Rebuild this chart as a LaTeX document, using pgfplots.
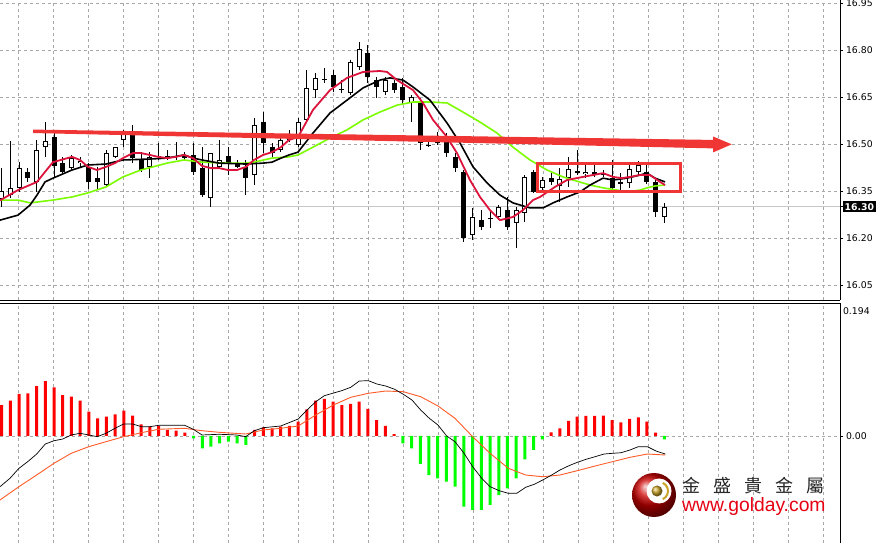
\documentclass[border=0pt]{standalone}
\usepackage{pgfplots}
\pgfplotsset{compat=1.18}
\usepackage{pgfplotstable}
\usepackage{fontspec}
\setmainfont{DejaVu Sans}
\newfontfamily\cjk{Noto Sans CJK TC}
\newfontfamily\lib{Liberation Sans}
\definecolor{mared}{HTML}{DC143C}
\definecolor{magreen}{HTML}{7CFC00}
\definecolor{histred}{HTML}{FF0000}
\definecolor{histgreen}{HTML}{00FF00}
\definecolor{sigorange}{HTML}{FF5A28}
\definecolor{gridgray}{HTML}{A8A8A8}
\definecolor{annot}{HTML}{F03535}
\definecolor{golred}{HTML}{E60012}
\definecolor{goldc}{HTML}{C9A227}

\pgfplotstableread{
i O H L C
0 16.324 16.423 16.299 16.350
1 16.337 16.510 16.328 16.360
2 16.360 16.442 16.347 16.423
3 16.411 16.423 16.379 16.391
4 16.379 16.513 16.347 16.481
5 16.490 16.570 16.459 16.510
6 16.522 16.535 16.395 16.430
7 16.439 16.459 16.404 16.411
8 16.423 16.465 16.417 16.455
9 16.439 16.459 16.427 16.446
10 16.427 16.439 16.356 16.379
11 16.391 16.427 16.353 16.379
12 16.369 16.481 16.366 16.471
13 16.459 16.490 16.455 16.490
14 16.513 16.545 16.490 16.535
15 16.538 16.561 16.439 16.455
16 16.449 16.474 16.411 16.417
17 16.427 16.474 16.391 16.459
18 16.459 16.503 16.449 16.462
19 16.459 16.481 16.449 16.462
20 16.459 16.506 16.449 16.462
21 16.465 16.474 16.449 16.455
22 16.465 16.503 16.401 16.411
23 16.423 16.490 16.331 16.337
24 16.328 16.471 16.299 16.471
25 16.427 16.513 16.423 16.449
26 16.462 16.490 16.401 16.439
27 16.439 16.449 16.423 16.427
28 16.427 16.449 16.337 16.391
29 16.401 16.583 16.369 16.561
30 16.570 16.602 16.471 16.503
31 16.490 16.503 16.459 16.471
32 16.481 16.526 16.474 16.513
33 16.513 16.545 16.506 16.526
34 16.497 16.583 16.490 16.570
35 16.577 16.736 16.567 16.679
36 16.672 16.727 16.647 16.711
37 16.704 16.743 16.695 16.707
38 16.720 16.736 16.666 16.682
39 16.672 16.704 16.663 16.676
40 16.663 16.768 16.656 16.762
41 16.746 16.826 16.736 16.803
42 16.790 16.816 16.695 16.714
43 16.704 16.714 16.647 16.682
44 16.666 16.714 16.656 16.704
45 16.695 16.704 16.663 16.672
46 16.682 16.711 16.624 16.640
47 16.631 16.656 16.570 16.650
48 16.631 16.647 16.481 16.503
49 16.494 16.510 16.490 16.497
50 16.503 16.538 16.497 16.513
51 16.513 16.535 16.459 16.471
52 16.459 16.471 16.411 16.423
53 16.411 16.417 16.187 16.200
54 16.210 16.296 16.194 16.267
55 16.257 16.289 16.226 16.235
56 16.261 16.289 16.232 16.264
57 16.267 16.305 16.257 16.299
58 16.289 16.331 16.226 16.235
59 16.248 16.299 16.168 16.289
60 16.280 16.401 16.251 16.395
61 16.411 16.417 16.344 16.347
62 16.360 16.395 16.353 16.385
63 16.391 16.407 16.369 16.379
64 16.366 16.423 16.315 16.388
65 16.391 16.459 16.363 16.420
66 16.407 16.481 16.401 16.414
67 16.404 16.433 16.391 16.411
68 16.411 16.433 16.395 16.401
69 16.401 16.417 16.395 16.407
70 16.391 16.449 16.353 16.360
71 16.372 16.407 16.353 16.379
72 16.376 16.442 16.360 16.420
73 16.411 16.446 16.401 16.433
74 16.411 16.433 16.372 16.379
75 16.379 16.385 16.267 16.283
76 16.267 16.312 16.248 16.300
}\candles

\pgfplotstableread{
x y
-0.19 16.320
1.87 16.353
4.05 16.379
4.97 16.411
5.88 16.442
8.06 16.459
8.98 16.449
9.90 16.427
10.93 16.417
11.96 16.427
12.99 16.439
13.91 16.455
15.06 16.471
15.97 16.471
17.01 16.465
17.92 16.459
18.96 16.455
19.99 16.459
20.91 16.465
21.94 16.455
22.97 16.430
24.00 16.423
24.92 16.423
25.95 16.417
26.98 16.417
28.02 16.427
28.93 16.449
29.97 16.465
31.00 16.474
32.03 16.490
32.95 16.513
33.98 16.522
35.70 16.609
37.65 16.672
39.60 16.711
41.44 16.730
43.38 16.733
44.19 16.730
45.33 16.704
47.17 16.672
48.31 16.631
49.46 16.577
51.07 16.522
52.21 16.471
53.70 16.385
54.85 16.331
55.99 16.289
57.14 16.257
58.63 16.267
59.78 16.289
60.93 16.321
61.73 16.331
63.45 16.363
64.83 16.385
66.66 16.395
68.96 16.407
70.10 16.395
71.14 16.391
72.05 16.395
73.20 16.401
74.34 16.401
75.49 16.379
76.07 16.369
}\mafast

\pgfplotstableread{
x y
-0.19 16.257
1.87 16.273
3.25 16.305
4.05 16.337
4.97 16.379
5.88 16.391
8.06 16.417
9.90 16.433
11.96 16.436
13.91 16.449
17.01 16.452
18.96 16.455
20.91 16.465
21.94 16.455
22.97 16.449
24.92 16.439
28.02 16.436
29.97 16.439
31.00 16.442
32.03 16.455
32.95 16.465
33.98 16.474
35.70 16.535
37.65 16.599
39.60 16.640
41.44 16.679
43.38 16.704
44.53 16.711
46.02 16.704
47.17 16.682
49.12 16.640
51.07 16.567
52.56 16.503
54.05 16.427
55.65 16.376
57.14 16.337
58.63 16.312
60.58 16.296
62.07 16.296
63.22 16.312
64.83 16.331
66.32 16.347
67.47 16.369
68.96 16.391
70.10 16.385
71.71 16.391
73.20 16.401
74.00 16.407
74.92 16.391
76.07 16.379
}\mamid

\pgfplotstableread{
x y
-0.19 16.321
1.87 16.321
3.25 16.312
5.88 16.321
8.06 16.331
9.90 16.344
11.96 16.363
13.91 16.395
15.97 16.417
18.96 16.439
20.91 16.449
22.97 16.442
25.95 16.439
28.02 16.439
28.93 16.442
31.00 16.455
32.95 16.459
33.98 16.465
35.70 16.490
37.65 16.519
39.60 16.545
41.44 16.577
43.38 16.602
45.33 16.624
47.17 16.634
49.12 16.634
51.07 16.631
52.90 16.602
54.85 16.570
56.80 16.535
58.63 16.490
60.58 16.449
62.53 16.417
64.37 16.395
65.52 16.385
67.47 16.369
68.96 16.360
70.56 16.353
71.71 16.347
73.20 16.353
74.00 16.360
74.92 16.366
76.07 16.369
}\maslow

\pgfplotstableread{
i h
0 0.0452
1 0.0515
2 0.0613
3 0.0623
4 0.0729
5 0.0802
6 0.0710
7 0.0598
8 0.0573
9 0.0515
10 0.0354
11 0.0258
12 0.0282
13 0.0317
14 0.0369
15 0.0296
16 0.0171
17 0.0136
18 0.0146
19 0.0088
20 0.0077
21 0.0048
22 -0.0034
23 -0.0179
24 -0.0156
25 -0.0106
26 -0.0083
27 -0.0106
28 -0.0131
29 0.0088
30 0.0127
31 0.0112
32 0.0136
33 0.0146
34 0.0209
35 0.0389
36 0.0515
37 0.0540
38 0.0500
39 0.0452
40 0.0467
41 0.0500
42 0.0394
43 0.0233
44 0.0146
45 0.0029
46 -0.0106
47 -0.0179
48 -0.0408
49 -0.0569
50 -0.0617
51 -0.0667
52 -0.0739
53 -0.1031
54 -0.1079
55 -0.1079
56 -0.1006
57 -0.0861
58 -0.0763
59 -0.0617
60 -0.0340
61 -0.0204
62 -0.0048
63 0.0054
64 0.0112
65 0.0219
66 0.0282
67 0.0292
68 0.0292
69 0.0296
70 0.0233
71 0.0200
72 0.0248
73 0.0273
74 0.0209
75 0.0048
76 -0.0048
}\hist

\pgfplotstableread{
x y
-0.19 -0.0739
0.95 -0.0617
1.98 -0.0471
2.98 -0.0375
4.01 -0.0263
5.00 -0.0117
6.00 -0.0069
7.00 -0.0044
7.98 0.0015
8.98 0.0039
9.98 0.0015
10.96 -0.0010
11.96 0.0039
12.99 0.0112
13.99 0.0175
15.02 0.0175
16.01 0.0136
17.01 0.0136
18.00 0.0156
19.99 0.0156
20.99 0.0156
21.97 0.0098
22.97 0.0015
24.95 0.0025
26.95 0.0015
27.98 -0.0010
28.97 0.0077
30.00 0.0121
32.00 0.0146
34.01 0.0248
35.01 0.0379
36.01 0.0500
37.00 0.0588
38.99 0.0661
40.02 0.0710
41.01 0.0802
42.04 0.0807
43.04 0.0758
44.04 0.0729
45.07 0.0681
46.06 0.0608
47.05 0.0525
48.05 0.0379
49.04 0.0258
50.03 0.0160
51.03 0.0000
51.98 -0.0083
53.02 -0.0252
54.01 -0.0448
55.05 -0.0617
56.00 -0.0739
57.06 -0.0798
58.10 -0.0836
59.06 -0.0836
60.09 -0.0748
61.08 -0.0704
62.04 -0.0642
63.07 -0.0569
64.02 -0.0496
65.05 -0.0433
66.01 -0.0384
67.01 -0.0340
68.04 -0.0302
69.07 -0.0263
70.02 -0.0253
71.02 -0.0244
72.05 -0.0204
73.00 -0.0156
74.04 -0.0156
75.04 -0.0219
76.10 -0.0263
}\macdline

\pgfplotstableread{
x y
-0.19 -0.0933
1.98 -0.0739
4.01 -0.0569
6.00 -0.0398
7.98 -0.0252
9.98 -0.0156
11.96 -0.0083
13.99 -0.0010
16.01 0.0048
18.00 0.0098
20.99 0.0112
22.97 0.0077
24.95 0.0054
27.98 0.0029
30.00 0.0088
32.00 0.0112
34.01 0.0146
36.01 0.0306
38.03 0.0452
40.02 0.0564
42.04 0.0623
44.04 0.0656
46.06 0.0646
48.05 0.0573
50.03 0.0438
51.98 0.0258
54.01 -0.0010
56.00 -0.0252
58.10 -0.0471
60.09 -0.0569
62.04 -0.0594
64.02 -0.0569
66.01 -0.0506
68.04 -0.0438
70.02 -0.0375
72.05 -0.0311
74.04 -0.0263
76.10 -0.0277
}\signal

\pgfplotsset{
  mtpanel/.style={
    scale only axis, width=840pt,
    xmin=-0.195, xmax=96.135,
    axis y line*=right,
    xtick={1.904,5.9178,...,95},
    xticklabels={}, xtick style={draw=none},
    grid=major,
    major grid style={gridgray, dash pattern=on 3pt off 3pt, line width=0.6pt},
    tick align=outside, major tick length=3pt,
    ytick style={black, line width=0.6pt},
    axis line style={black, line width=0.8pt},
    tick label style={font=\fontsize{9.3}{11}\selectfont, text=black},
    yticklabel style={xshift=-0.5pt},
    /pgf/number format/assume math mode=true,
  }
}

\begin{document}
\begin{tikzpicture}[x=1pt,y=1pt]
\useasboundingbox (0,0) rectangle (885,543);

\begin{axis}[mtpanel, at={(0pt,243pt)}, anchor=south west, height=300pt,
  ymin=16.0021, ymax=16.9596,
  axis x line*=bottom,
  ytick={16.05,16.20,16.35,16.50,16.65,16.80,16.95},
  yticklabels={16.05,16.20,16.35,16.50,16.65,16.80,16.95},
  extra y ticks={16.30}, extra y tick labels={16.30},
  extra y tick style={major grid style={solid, draw=gray!45, line width=0.8pt},
     yticklabel style={fill=black, text=white, inner xsep=2pt, inner ysep=1.8pt, font=\fontsize{9.3}{11}\selectfont\bfseries}},
]
% wicks
\addplot[black, line width=1pt, mark=none,
  quiver={u=0, v={\thisrow{H}-\thisrow{L}}}] table[x=i, y=L] {\candles};
% bodies (outline / black fill)
\addplot[black, line width=5pt, mark=none,
  quiver={u=0, v={max(abs(\thisrow{C}-\thisrow{O}),0.0032)}}]
  table[x=i, y expr={min(\thisrow{O},\thisrow{C})}] {\candles};
% white interior of rising candles
\addplot[white, line width=3pt, mark=none,
  restrict expr to domain={\thisrow{C}-\thisrow{O}}{0.007:10},
  quiver={u=0, v={\thisrow{C}-\thisrow{O}-0.0064}}]
  table[x=i, y expr={\thisrow{O}+0.0032}] {\candles};
% moving averages
\addplot[magreen, line width=1.6pt, line join=round, mark=none] table[x=x,y=y] {\maslow};
\addplot[black, line width=1.6pt, line join=round, mark=none] table[x=x,y=y] {\mamid};
\addplot[mared, line width=1.8pt, line join=round, mark=none] table[x=x,y=y] {\mafast};
% annotations
\fill[annot] (axis cs:3.59,16.546) -- (axis cs:81.57,16.513) -- (axis cs:81.57,16.524)
  -- (axis cs:83.72,16.499) -- (axis cs:81.57,16.473) -- (axis cs:81.57,16.486)
  -- (axis cs:3.59,16.535) -- cycle;
\draw[annot, line width=3pt] (axis cs:61.39,16.439) rectangle (axis cs:77.79,16.347);
\end{axis}

\begin{axis}[mtpanel, at={(0pt,0pt)}, anchor=south west, height=240pt,
  ymin=-0.15607, ymax=0.194,
  axis x line*=top,
  ytick={0}, yticklabels={0.00},
  extra y ticks={0.194}, extra y tick labels={0.194},
  extra y tick style={grid=none, major tick length=0pt, yticklabel style={yshift=-8pt}},
]
\addplot[ybar, bar width=3pt, bar shift=0pt, fill=histred, draw=none,
  restrict expr to domain={\thisrow{h}}{0.0001:1}] table[x=i, y=h] {\hist};
\addplot[ybar, bar width=3pt, bar shift=0pt, fill=histgreen, draw=none,
  restrict expr to domain={\thisrow{h}}{-1:-0.0001}] table[x=i, y=h] {\hist};
\addplot[sigorange, line width=0.9pt, mark=none] table[x=x,y=y] {\signal};
\addplot[black, line width=0.7pt, mark=none] table[x=x,y=y] {\macdline};
\end{axis}

% logo
\shade[ball color=red!80!black] (654,48) circle (22);
\fill[white] (659,52) circle (12.5);
\draw[goldc, line width=2pt] (659,52) ++(65:9) arc (65:-65:9);
\shade[ball color=goldc] (657,52) circle (5.5);
\node[anchor=west, inner sep=0, text=black!85] at (682,57)
  {\cjk\fontsize{18}{18}\selectfont 金\hspace{13pt}盛\hspace{13pt}貴\hspace{13pt}金\hspace{13pt}屬};
\node[anchor=base west, inner sep=0, text=golred] at (682,32)
  {\lib\fontsize{19.3}{19.3}\selectfont www.golday.com};
\end{tikzpicture}
\end{document}
